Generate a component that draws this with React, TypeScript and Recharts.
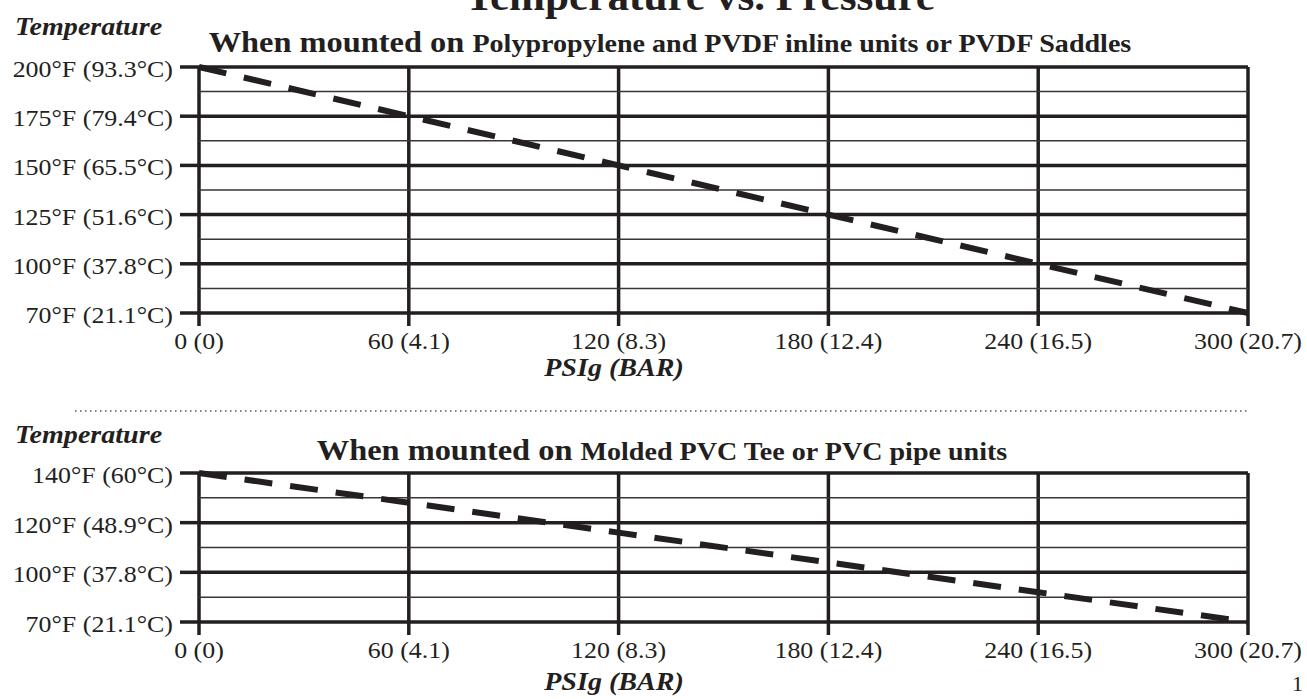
import React from 'react'
import { LineChart, Line, XAxis, YAxis, CartesianGrid, ReferenceLine } from 'recharts'

const INK = '#231f20'
const FONT = '"Liberation Serif", "Times New Roman", serif'
const SX = 1.08

// x axis: pressure in PSIg with BAR in brackets
const psiTicks = [0, 60, 120, 180, 240, 300]
const barTicks = ['0', '4.1', '8.3', '12.4', '16.5', '20.7']

// top chart: Polypropylene / PVDF
const topTempTicks = [70, 100, 125, 150, 175, 200]
const topCelsius = ['21.1', '37.8', '51.6', '65.5', '79.4', '93.3']
const topLimitPsi = [0, 60, 120, 180, 240, 300]
const topLimitTemp = [200, 175, 150, 125, 100, 70]

// bottom chart: PVC
const bottomTempTicks = [70, 100, 120, 140]
const bottomCelsius = ['21.1', '37.8', '48.9', '60']
const bottomLimitPsi = [0, 60, 120, 180, 240, 300]
const bottomLimitTemp = [140, 128, 116, 104, 88, 70]

// the temperature axis is evenly spaced per label, not linear in °F
const toLevel = (t: number, ticks: number[]) => {
  for (let i = 0; i < ticks.length - 1; i++) {
    if (t >= ticks[i] && t <= ticks[i + 1]) {
      return i + (t - ticks[i]) / (ticks[i + 1] - ticks[i])
    }
  }
  return t < ticks[0] ? 0 : ticks.length - 1
}

const buildData = (psi: number[], temps: number[], ticks: number[]) =>
  psi.map((p, i) => ({ psi: p, level: toLevel(temps[i], ticks) }))

const topData = buildData(topLimitPsi, topLimitTemp, topTempTicks)
const bottomData = buildData(bottomLimitPsi, bottomLimitTemp, bottomTempTicks)

const makeYTick = (temps: number[], celsius: string[]) => (props: any) => {
  const { x, y, payload } = props
  const i = payload.value
  return (
    <text
      transform={`translate(${x},${y + 10}) scale(${SX},1)`}
      textAnchor="end"
      fontFamily={FONT}
      fontSize={24}
      fill={INK}
    >
      {`${temps[i]}°F (${celsius[i]}°C)`}
    </text>
  )
}

const XTick = (props: any) => {
  const { x, y, payload } = props
  const i = psiTicks.indexOf(payload.value)
  return (
    <text
      transform={`translate(${x},${y + 23}) scale(${SX},1)`}
      textAnchor="middle"
      fontFamily={FONT}
      fontSize={24}
      fill={INK}
    >
      {`${payload.value} (${barTicks[i]})`}
    </text>
  )
}

function LimitChart({ data, temps, celsius, height, top, xHeight }: any) {
  const levels = temps.map((_: number, i: number) => i)
  const minor = levels.slice(0, -1).map((l: number) => l + 0.5)
  return (
    <LineChart
      width={1307}
      height={height}
      data={data}
      margin={{ top, right: 59, bottom: 0, left: 0 }}
    >
      <CartesianGrid stroke={INK} strokeWidth={3.5} />
      {minor.map((m: number) => (
        <ReferenceLine key={m} y={m} stroke="#3a3536" strokeWidth={1.5} />
      ))}
      <XAxis
        dataKey="psi"
        type="number"
        domain={[0, 300]}
        ticks={psiTicks}
        interval={0}
        height={xHeight}
        tickSize={13}
        tickMargin={0}
        axisLine={false}
        tickLine={{ stroke: INK, strokeWidth: 3.5 }}
        tick={XTick}
      />
      <YAxis
        type="number"
        domain={[0, temps.length - 1]}
        ticks={levels}
        interval={0}
        width={199}
        tickSize={19}
        tickMargin={7}
        axisLine={false}
        tickLine={{ stroke: INK, strokeWidth: 3.5 }}
        tick={makeYTick(temps, celsius)}
      />
      <Line
        type="linear"
        dataKey="level"
        stroke={INK}
        strokeWidth={6}
        strokeDasharray="28 18"
        dot={false}
        isAnimationActive={false}
      />
    </LineChart>
  )
}

const Label = ({ x, y, size, anchor = 'start', italic = false, children }: any) => (
  <text
    transform={`translate(${x},${y}) scale(${SX},1)`}
    textAnchor={anchor}
    fontFamily={FONT}
    fontSize={size}
    fontWeight="bold"
    fontStyle={italic ? 'italic' : 'normal'}
    fill={INK}
  >
    {children}
  </text>
)

export default function App() {
  return (
    <div style={{ position: 'absolute', left: 0, top: 0, width: 1307, height: 699, background: '#fff', overflow: 'hidden' }}>
      <div style={{ position: 'absolute', left: 0, top: 0 }}>
        <LimitChart data={topData} temps={topTempTicks} celsius={topCelsius} height={400} top={67} xHeight={87} />
      </div>
      <div style={{ position: 'absolute', left: 0, top: 400 }}>
        <LimitChart data={bottomData} temps={bottomTempTicks} celsius={bottomCelsius} height={299} top={73} xHeight={77} />
      </div>
      <svg width={1307} height={699} style={{ position: 'absolute', left: 0, top: 0, pointerEvents: 'none' }}>
        <Label x={700} y={10} size={40} anchor="middle">Temperature vs. Pressure</Label>

        <Label x={15} y={35} size={26} italic>Temperature</Label>
        <Label x={670} y={52} size={30} anchor="middle">
          When mounted on <tspan fontSize={26}>Polypropylene and PVDF inline units or PVDF Saddles</tspan>
        </Label>
        <Label x={614} y={376} size={26} anchor="middle" italic>PSIg (BAR)</Label>

        <line x1={75} y1={411} x2={1250} y2={411} stroke="#555" strokeWidth={1.5} strokeDasharray="1.5 3.5" />

        <Label x={15} y={443} size={26} italic>Temperature</Label>
        <Label x={662} y={460} size={30} anchor="middle">
          When mounted on <tspan fontSize={26}>Molded PVC Tee or PVC pipe units</tspan>
        </Label>
        <Label x={614} y={690} size={26} anchor="middle" italic>PSIg (BAR)</Label>

        <text x={1292} y={691} fontFamily={FONT} fontSize={22} fill={INK}>1</text>
      </svg>
    </div>
  )
}
